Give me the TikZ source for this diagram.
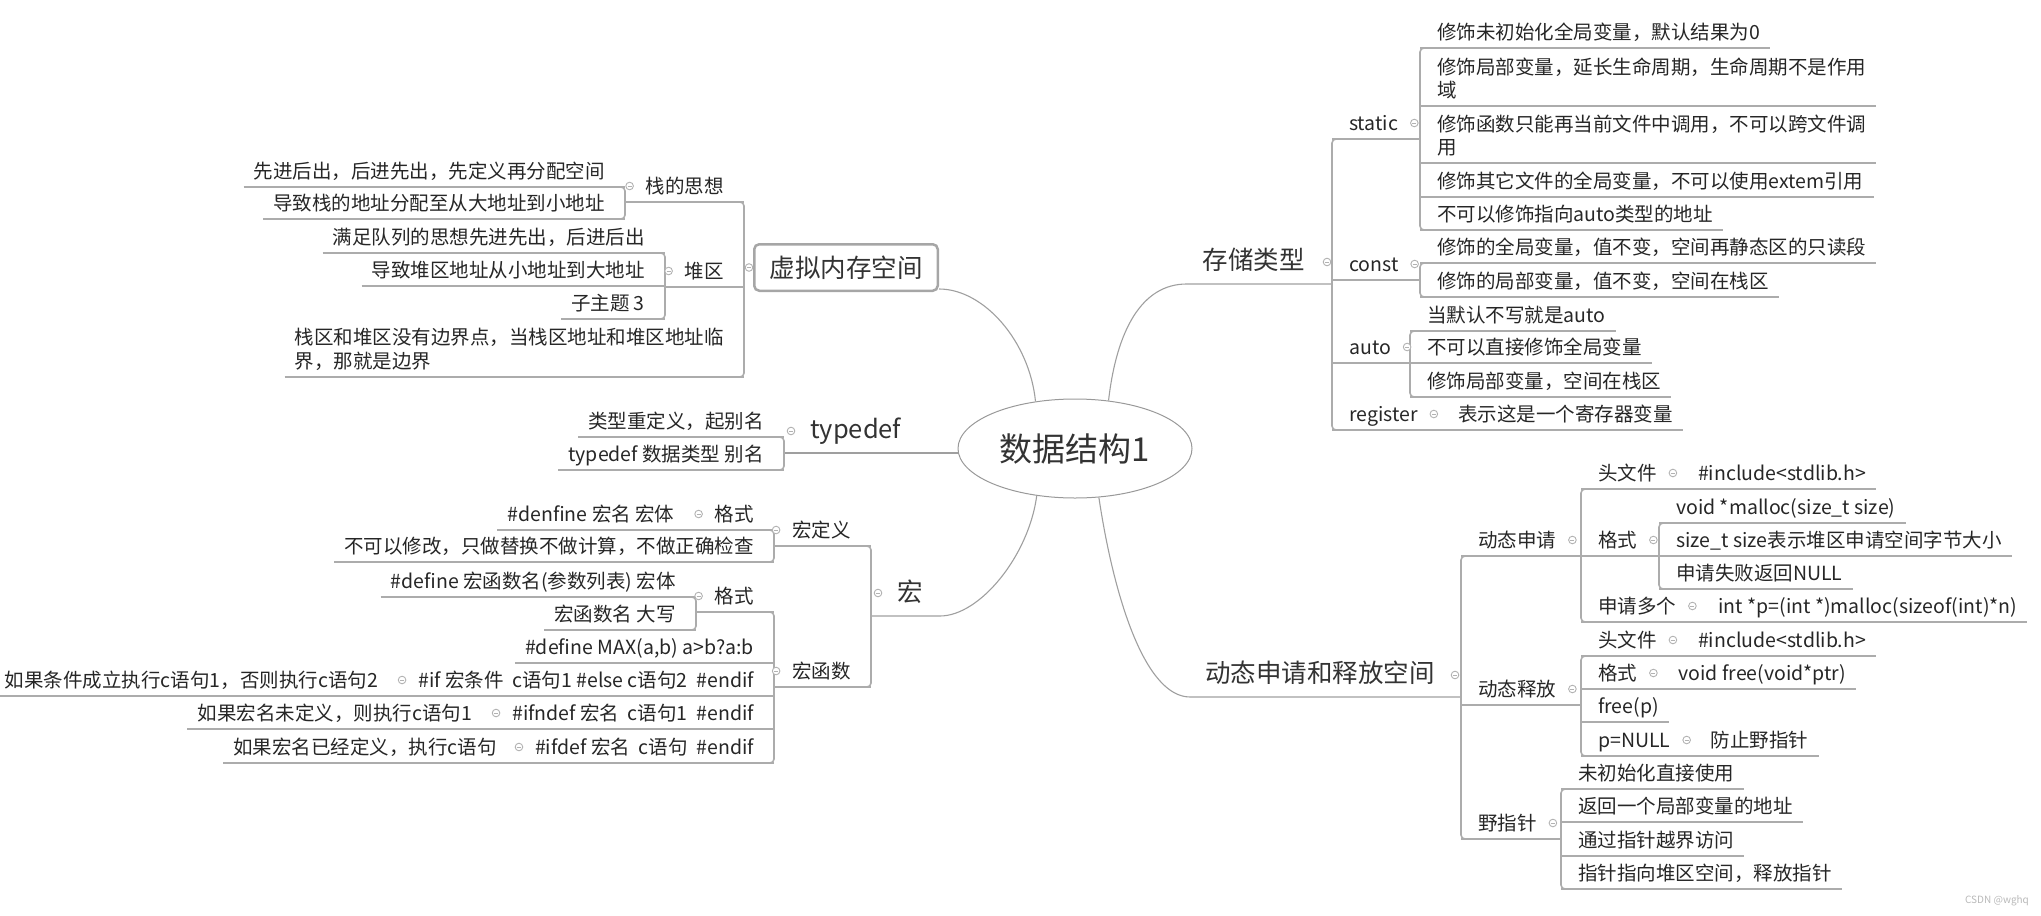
\documentclass[tikz,border=0pt]{standalone}
\usepackage{fontspec}
\setmainfont{Noto Sans CJK SC}
\usetikzlibrary{shapes.geometric}

% underlines and brackets of the map
\newcommand\ulR[2]{\draw[uline] ([xshift=-17pt]#1.south west) -- ([xshift=10pt]#2.south east);}
\newcommand\ulL[2]{\draw[uline] ([xshift=-10pt]#1.south west) -- ([xshift=20pt]#2.south east);}
\newcommand\brkR[2]{\draw[uline, rounded corners=4pt] ([xshift=-8pt]#1.south west) -- ([xshift=-17pt]#1.south west) -- ([xshift=-17pt]#2.south west) -- ([xshift=-8pt]#2.south west);}
\newcommand\brkL[2]{\draw[uline, rounded corners=4pt] ([xshift=12pt]#1.south east) -- ([xshift=20pt]#1.south east) -- ([xshift=20pt]#2.south east) -- ([xshift=12pt]#2.south east);}
\newcommand\foldR[1]{\pic at ([xshift=16pt, yshift=16pt]#1.south east) {fold};}
\newcommand\foldL[1]{\pic at ([xshift=-16pt, yshift=16pt]#1.south west) {fold};}

\begin{document}
\begin{tikzpicture}[x=1pt, y=-1pt,
    leaf/.style={inner xsep=0pt, inner ysep=8.5pt, text depth=0pt, font=\fontsize{19.5}{23}\selectfont, text=black!85},
    topic/.style={inner xsep=0pt, inner ysep=14pt, text depth=0pt, font=\fontsize{25.5}{30}\selectfont, text=black!80},
    uline/.style={draw=gray!65, line width=1.6pt},
    branch/.style={draw=gray!75, line width=1.1pt},
    fold/.pic={\draw[gray!60, fill=white, line width=0.9pt] (0,0) circle (3.8pt); \draw[gray!60, line width=0.9pt] (-2pt,0) -- (2pt,0);}]
    \useasboundingbox (0,0) rectangle (2041,915);

    \node[ellipse, draw=gray!80, line width=1pt, minimum width=234pt, minimum height=99pt, inner sep=0pt, font=\fontsize{33}{40}\selectfont, text=black!80] (root) at (1075,448.5) {数据结构1};

    % virtual memory
    \node[draw=gray!70, line width=2.5pt, rounded corners=5pt, minimum width=183.5pt, minimum height=46.5pt, inner sep=0pt, font=\fontsize{25.5}{30}\selectfont, text=black!80] (vm) at (846,267.5) {虚拟内存空间};
    \node[leaf, anchor=south east] (stk) at (724,202) {栈的思想};
    \node[leaf, anchor=south east] (stk1) at (605,187) {先进后出，后进先出，先定义再分配空间};
    \node[leaf, anchor=south east] (stk2) at (605,219) {导致栈的地址分配至从大地址到小地址};
    \node[leaf, anchor=south east] (heap) at (724,287) {堆区};
    \node[leaf, anchor=south east] (heap1) at (645,253) {满足队列的思想先进先出，后进后出};
    \node[leaf, anchor=south east] (heap2) at (645,286) {导致堆区地址从小地址到大地址};
    \node[leaf, anchor=south east] (heap3) at (645,319) {子主题 3};
    \node[leaf, anchor=south east] (edge) at (724,377) {\begin{tabular}[b]{@{}l@{}}栈区和堆区没有边界点，当栈区地址和堆区地址临\\界，那就是边界\end{tabular}};

    \draw[branch] ([yshift=3pt]vm.south east) .. controls +(45,0) and +(-6,-60) .. (root.130);
    \brkL{stk}{edge}
    \draw[uline] ([xshift=20pt]stk1.south east |- stk.south) -- ([xshift=20pt]stk.south east);
    \brkL{stk1}{stk2} \ulL{stk1}{stk1} \ulL{stk2}{stk2}
    \draw[uline] ([xshift=20pt]heap1.south east |- heap.south) -- ([xshift=20pt]heap.south east);
    \brkL{heap1}{heap3} \ulL{heap1}{heap1} \ulL{heap2}{heap2} \ulL{heap3}{heap3}
    \ulL{edge}{edge}
    \pic at ([xshift=-4pt]vm.west) {fold};
    \foldL{stk} \foldL{heap}

    % typedef
    \node[topic, anchor=south west] (tdf) at (810,453) {typedef};
    \node[leaf, anchor=south east] (tdf1) at (764,437) {类型重定义，起别名};
    \node[leaf, anchor=south east] (tdf2) at (764,470) {typedef 数据类型 别名};
    \draw[branch] ([xshift=20pt]tdf1.south east |- tdf.south) -- (tdf.south -| root.west);
    \brkL{tdf1}{tdf2} \ulL{tdf1}{tdf1} \ulL{tdf2}{tdf2}
    \pic at ([xshift=-19pt, yshift=22pt]tdf.south west) {fold};

    % macros
    \node[topic, anchor=south west] (mac) at (897,616) {宏};
    \node[leaf, anchor=south east] (mdef) at (851,546) {宏定义};
    \node[leaf, anchor=south east] (mdeffmt) at (754,530) {格式};
    \node[leaf, anchor=south east] (mdeffmt1) at ([xshift=-40pt]mdeffmt.south west) {\#denfine 宏名 宏体};
    \node[leaf, anchor=south east] (mdefno) at (754,562) {不可以修改，只做替换不做计算，不做正确检查};
    \node[leaf, anchor=south east] (mfun) at (851,687) {宏函数};
    \node[leaf, anchor=south east] (mfunfmt) at (754,612) {格式};
    \node[leaf, anchor=south east] (mfunfmt1) at (676,597) {\#define 宏函数名(参数列表) 宏体};
    \node[leaf, anchor=south east] (mfunfmt2) at (676,630) {宏函数名 大写};
    \node[leaf, anchor=south east] (mfunmax) at (754,663) {\#define MAX(a,b) a>b?a:b};
    \node[leaf, anchor=south east] (mfunif) at (754,696) {\#if 宏条件\ \ c语句1 \#else c语句2\ \ \#endif};
    \node[leaf, anchor=south east] (mfunif1) at ([xshift=-40pt]mfunif.south west) {如果条件成立执行c语句1，否则执行c语句2};
    \node[leaf, anchor=south east] (mfunifn) at (754,729) {\#ifndef 宏名\ \ c语句1\ \ \#endif};
    \node[leaf, anchor=south east] (mfunifn1) at ([xshift=-40pt]mfunifn.south west) {如果宏名未定义，则执行c语句1};
    \node[leaf, anchor=south east] (mfunifd) at (754,763) {\#ifdef 宏名\ \ c语句\ \ \#endif};
    \node[leaf, anchor=south east] (mfunifd1) at ([xshift=-38pt]mfunifd.south west) {如果宏名已经定义，执行c语句};

    \draw[branch] ([xshift=20pt]mdef.south east |- mac.south) -- ([xshift=17pt]mac.south east) .. controls +(40,0) and +(-8,60) .. (root.231);
    \brkL{mdef}{mfun}
    \draw[uline] ([xshift=20pt]mdeffmt.south east |- mdef.south) -- ([xshift=20pt]mdef.south east);
    \brkL{mdeffmt}{mdefno} \ulL{mdeffmt1}{mdeffmt} \ulL{mdefno}{mdefno}
    \draw[uline] ([xshift=20pt]mfunfmt.south east |- mfun.south) -- ([xshift=20pt]mfun.south east);
    \brkL{mfunfmt}{mfunifd}
    \draw[uline] ([xshift=20pt]mfunfmt1.south east |- mfunfmt.south) -- ([xshift=20pt]mfunfmt.south east);
    \brkL{mfunfmt1}{mfunfmt2} \ulL{mfunfmt1}{mfunfmt1} \ulL{mfunfmt2}{mfunfmt2}
    \ulL{mfunmax}{mfunmax} \ulL{mfunif1}{mfunif} \ulL{mfunifn1}{mfunifn} \ulL{mfunifd1}{mfunifd}
    \pic at ([xshift=-19pt, yshift=23pt]mac.south west) {fold};
    \foldL{mdef} \foldL{mdeffmt} \foldL{mfun} \foldL{mfunfmt} \foldL{mfunif} \foldL{mfunifn} \foldL{mfunifd}

    % storage classes
    \node[topic, anchor=south east] (sto) at (1305,284) {存储类型};
    \node[leaf, anchor=south west] (stat) at (1349,139) {static};
    \node[leaf, anchor=south west] (stat1) at (1437,48) {修饰未初始化全局变量，默认结果为0};
    \node[leaf, anchor=south west] (stat2) at (1437,106) {\begin{tabular}[b]{@{}l@{}}修饰局部变量，延长生命周期，生命周期不是作用\\域\end{tabular}};
    \node[leaf, anchor=south west] (stat3) at (1437,163) {\begin{tabular}[b]{@{}l@{}}修饰函数只能再当前文件中调用，不可以跨文件调\\用\end{tabular}};
    \node[leaf, anchor=south west] (stat4) at (1437,197) {修饰其它文件的全局变量，不可以使用extem引用};
    \node[leaf, anchor=south west] (stat5) at (1437,230) {不可以修饰指向auto类型的地址};
    \node[leaf, anchor=south west] (cst) at (1349,280) {const};
    \node[leaf, anchor=south west] (cst1) at (1437,263) {修饰的全局变量，值不变，空间再静态区的只读段};
    \node[leaf, anchor=south west] (cst2) at (1437,297) {修饰的局部变量，值不变，空间在栈区};
    \node[leaf, anchor=south west] (aut) at (1349,363) {auto};
    \node[leaf, anchor=south west] (aut1) at (1427,331) {当默认不写就是auto};
    \node[leaf, anchor=south west] (aut2) at (1427,363) {不可以直接修饰全局变量};
    \node[leaf, anchor=south west] (aut3) at (1427,397) {修饰局部变量，空间在栈区};
    \node[leaf, anchor=south west] (reg) at (1349,430) {register};
    \node[leaf, anchor=south west] (reg1) at ([xshift=40pt]reg.south east) {表示这是一个寄存器变量};

    \draw[branch] (root.55) .. controls +(8,-70) and +(-45,0) .. ([xshift=-16pt]sto.south west) -- ([xshift=-17pt]stat.south west |- sto.south);
    \brkR{stat}{reg}
    \draw[uline] ([xshift=-17pt]stat.south west) -- ([xshift=-17pt]stat1.south west |- stat.south);
    \brkR{stat1}{stat5} \ulR{stat1}{stat1} \ulR{stat2}{stat2} \ulR{stat3}{stat3} \ulR{stat4}{stat4} \ulR{stat5}{stat5}
    \draw[uline] ([xshift=-17pt]cst.south west) -- ([xshift=-17pt]cst1.south west |- cst.south);
    \brkR{cst1}{cst2} \ulR{cst1}{cst1} \ulR{cst2}{cst2}
    \draw[uline] ([xshift=-17pt]aut.south west) -- ([xshift=-17pt]aut1.south west |- aut.south);
    \brkR{aut1}{aut3} \ulR{aut1}{aut1} \ulR{aut2}{aut2} \ulR{aut3}{aut3}
    \ulR{reg}{reg1}
    \pic at ([xshift=22pt, yshift=22pt]sto.south east) {fold};
    \foldR{stat} \foldR{cst} \foldR{aut} \foldR{reg}

    % dynamic memory
    \node[topic, anchor=south east] (dyn) at (1435,697) {动态申请和释放空间};
    \node[leaf, anchor=south west] (alloc) at (1478,556) {动态申请};
    \node[leaf, anchor=south west] (alloch) at (1598,489) {头文件};
    \node[leaf, anchor=south west] (alloch1) at ([xshift=41pt]alloch.south east) {\#include<stdlib.h>};
    \node[leaf, anchor=south west] (allocf) at (1598,556) {格式};
    \node[leaf, anchor=south west] (allocf1) at (1676,523) {void *malloc(size\_t size)};
    \node[leaf, anchor=south west] (allocf2) at (1676,556) {size\_t size表示堆区申请空间字节大小};
    \node[leaf, anchor=south west] (allocf3) at (1676,589) {申请失败返回NULL};
    \node[leaf, anchor=south west] (allocn) at (1598,622) {申请多个};
    \node[leaf, anchor=south west] (allocn1) at ([xshift=42pt]allocn.south east) {int *p=(int *)malloc(sizeof(int)*n)};
    \node[leaf, anchor=south west] (fre) at (1478,705) {动态释放};
    \node[leaf, anchor=south west] (freh) at (1598,656) {头文件};
    \node[leaf, anchor=south west] (freh1) at ([xshift=41pt]freh.south east) {\#include<stdlib.h>};
    \node[leaf, anchor=south west] (fref) at (1598,689) {格式};
    \node[leaf, anchor=south west] (fref1) at ([xshift=41pt]fref.south east) {void free(void*ptr)};
    \node[leaf, anchor=south west] (frep) at (1598,722) {free(p)};
    \node[leaf, anchor=south west] (fren) at (1598,756) {p=NULL};
    \node[leaf, anchor=south west] (fren1) at ([xshift=40pt]fren.south east) {防止野指针};
    \node[leaf, anchor=south west] (wild) at (1478,839) {野指针};
    \node[leaf, anchor=south west] (wild1) at (1578,789) {未初始化直接使用};
    \node[leaf, anchor=south west] (wild2) at (1578,822) {返回一个局部变量的地址};
    \node[leaf, anchor=south west] (wild3) at (1578,856) {通过指针越界访问};
    \node[leaf, anchor=south west] (wild4) at (1578,889) {指针指向堆区空间，释放指针};

    \draw[branch] (root.296) .. controls +(15,100) and +(-45,0) .. ([xshift=-15pt]dyn.south west) -- ([xshift=-17pt]alloc.south west |- dyn.south);
    \brkR{alloc}{wild}
    \draw[uline] ([xshift=-17pt]alloc.south west) -- ([xshift=-17pt]alloch.south west |- alloc.south);
    \brkR{alloch}{allocn} \ulR{alloch}{alloch1} \ulR{allocn}{allocn1}
    \draw[uline] ([xshift=-17pt]allocf.south west) -- ([xshift=-17pt]allocf1.south west |- allocf.south);
    \brkR{allocf1}{allocf3} \ulR{allocf1}{allocf1} \ulR{allocf2}{allocf2} \ulR{allocf3}{allocf3}
    \draw[uline] ([xshift=-17pt]fre.south west) -- ([xshift=-17pt]freh.south west |- fre.south);
    \brkR{freh}{fren} \ulR{freh}{freh1} \ulR{fref}{fref1} \ulR{frep}{frep} \ulR{fren}{fren1}
    \draw[uline] ([xshift=-17pt]wild.south west) -- ([xshift=-17pt]wild1.south west |- wild.south);
    \brkR{wild1}{wild4} \ulR{wild1}{wild1} \ulR{wild2}{wild2} \ulR{wild3}{wild3} \ulR{wild4}{wild4}
    \pic at ([xshift=20pt, yshift=22pt]dyn.south east) {fold};
    \foldR{alloc} \foldR{alloch} \foldR{allocf} \foldR{allocn} \foldR{fre} \foldR{freh} \foldR{fref} \foldR{fren} \foldR{wild}

    \node[font=\fontsize{10}{12}\selectfont, text=gray!55] (mark) at (1997,901) {CSDN @wghq};
\end{tikzpicture}
\end{document}
